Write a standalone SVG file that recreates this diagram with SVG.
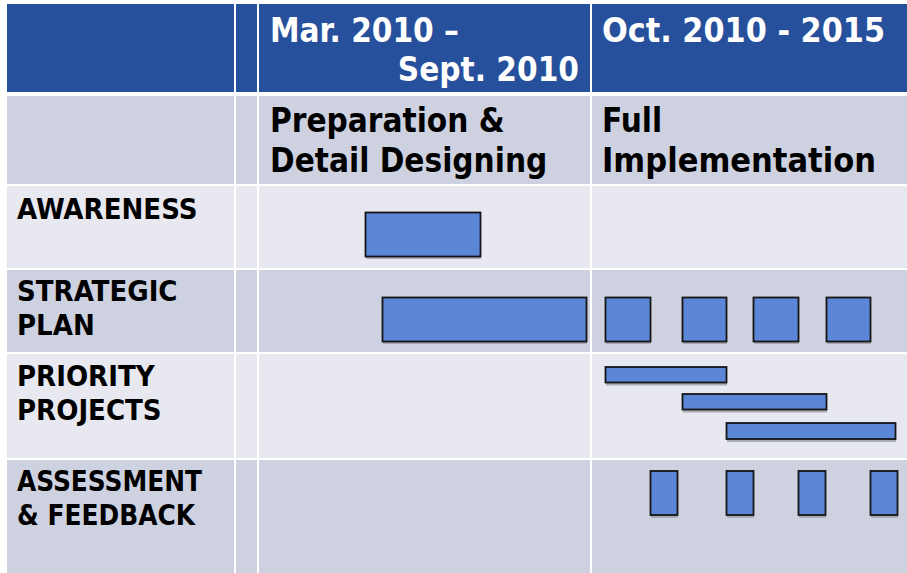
<svg xmlns="http://www.w3.org/2000/svg" width="907" height="573" viewBox="0 0 907 573">
<style>
.hdr{fill:#27509C}
.even{fill:#CDD1E0}
.odd{fill:#E7E8F0}
.t{font-family:"DejaVu Sans Condensed","DejaVu Sans",sans-serif;font-weight:bold;font-stretch:condensed}
.h{font-size:33px;fill:#FFFFFF}
.s{font-size:33px;fill:#000000}
.l{font-size:29px;fill:#000000}
.bar{fill:#5C87D8;stroke:#151515;stroke-width:1.8}
.sh{fill:#9C9EA8;opacity:0.8}
</style>
<rect x="0" y="0" width="907" height="573" fill="#FFFFFF"/>
<g id="table">
<rect class="hdr" x="7" y="4" width="227" height="88"/>
<rect class="hdr" x="236" y="4" width="21" height="88"/>
<rect class="hdr" x="259" y="4" width="331" height="88"/>
<rect class="hdr" x="592" y="4" width="315" height="88"/>
<rect class="even" x="7" y="96" width="227" height="88"/>
<rect class="even" x="236" y="96" width="21" height="88"/>
<rect class="even" x="259" y="96" width="331" height="88"/>
<rect class="even" x="592" y="96" width="315" height="88"/>
<rect class="odd" x="7" y="186" width="227" height="82"/>
<rect class="odd" x="236" y="186" width="21" height="82"/>
<rect class="odd" x="259" y="186" width="331" height="82"/>
<rect class="odd" x="592" y="186" width="315" height="82"/>
<rect class="even" x="7" y="270" width="227" height="82"/>
<rect class="even" x="236" y="270" width="21" height="82"/>
<rect class="even" x="259" y="270" width="331" height="82"/>
<rect class="even" x="592" y="270" width="315" height="82"/>
<rect class="odd" x="7" y="354" width="227" height="104"/>
<rect class="odd" x="236" y="354" width="21" height="104"/>
<rect class="odd" x="259" y="354" width="331" height="104"/>
<rect class="odd" x="592" y="354" width="315" height="104"/>
<rect class="even" x="7" y="460" width="227" height="113"/>
<rect class="even" x="236" y="460" width="21" height="113"/>
<rect class="even" x="259" y="460" width="331" height="113"/>
<rect class="even" x="592" y="460" width="315" height="113"/>
</g>
<g id="headers">
<text class="t h" x="270" y="42">Mar. 2010 –</text>
<text class="t h" x="579" y="81" text-anchor="end">Sept. 2010</text>
<text class="t h" x="602" y="42" textLength="283" lengthAdjust="spacingAndGlyphs">Oct. 2010 - 2015</text>
<text class="t s" x="270" y="132">Preparation &amp;</text>
<text class="t s" x="270" y="172">Detail Designing</text>
<text class="t s" x="602" y="132">Full</text>
<text class="t s" x="602" y="172" textLength="274" lengthAdjust="spacingAndGlyphs">Implementation</text>
</g>
<g id="row-labels">
<text class="t l" x="17" y="219">AWARENESS</text>
<text class="t l" x="17" y="301">STRATEGIC</text>
<text class="t l" x="17" y="335">PLAN</text>
<text class="t l" x="17" y="386">PRIORITY</text>
<text class="t l" x="17" y="420">PROJECTS</text>
<text class="t l" x="17" y="491" textLength="185" lengthAdjust="spacingAndGlyphs">ASSESSMENT</text>
<text class="t l" x="17" y="525" textLength="178" lengthAdjust="spacingAndGlyphs">&amp; FEEDBACK</text>
</g>
<g id="awareness-bars">
<rect class="sh" x="366" y="215" width="115" height="44"/>
<rect class="bar" x="365.5" y="212.5" width="115" height="44"/>
</g>
<g id="strategic-bars">
<rect class="sh" x="383" y="300" width="204" height="44"/>
<rect class="bar" x="382.5" y="297.5" width="204" height="44"/>
<rect class="sh" x="606" y="300" width="45" height="44"/>
<rect class="bar" x="605.5" y="297.5" width="45" height="44"/>
<rect class="sh" x="683" y="300" width="44" height="44"/>
<rect class="bar" x="682.5" y="297.5" width="44" height="44"/>
<rect class="sh" x="754" y="300" width="45" height="44"/>
<rect class="bar" x="753.5" y="297.5" width="45" height="44"/>
<rect class="sh" x="827" y="300" width="44" height="44"/>
<rect class="bar" x="826.5" y="297.5" width="44" height="44"/>
</g>
<g id="priority-bars">
<rect class="sh" x="606" y="370" width="121" height="15.5"/>
<rect class="bar" x="605.5" y="367" width="121" height="15.5"/>
<rect class="sh" x="683" y="397" width="144" height="15.5"/>
<rect class="bar" x="682.5" y="394" width="144" height="15.5"/>
<rect class="sh" x="727" y="426" width="169" height="16"/>
<rect class="bar" x="726.5" y="423" width="169" height="16"/>
</g>
<g id="assessment-bars">
<rect class="sh" x="651" y="474" width="27" height="44"/>
<rect class="bar" x="650.5" y="471" width="27" height="44"/>
<rect class="sh" x="727" y="474" width="27" height="44"/>
<rect class="bar" x="726.5" y="471" width="27" height="44"/>
<rect class="sh" x="799" y="474" width="27" height="44"/>
<rect class="bar" x="798.5" y="471" width="27" height="44"/>
<rect class="sh" x="871" y="474" width="27" height="44"/>
<rect class="bar" x="870.5" y="471" width="27" height="44"/>
</g>
<g id="connectors"></g>
</svg>
